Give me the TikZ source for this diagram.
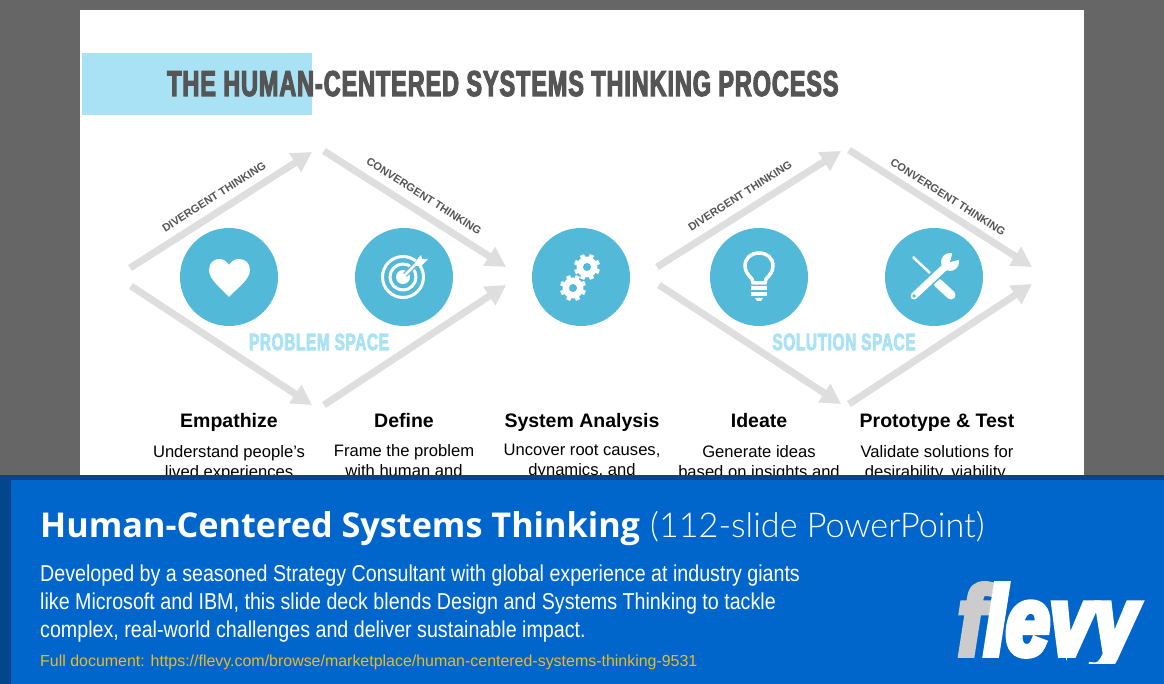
\documentclass[tikz,border=0pt]{standalone}
\usepackage{fontspec}
\setmainfont{Liberation Sans}
\newfontfamily\titlefont{Liberation Sans}[FakeStretch=0.65,FakeBold=3,LetterSpace=2.6]
\newfontfamily\narrowfont{Liberation Sans}[FakeStretch=0.855]
\newfontfamily\headfont{Open Sans}
\newfontfamily\lightfont{Lato}[UprightFont=* Light]
\newfontfamily\logofont{Liberation Sans}[FakeStretch=0.8,FakeBold=6]
\usetikzlibrary{arrows.meta}
\definecolor{slidegray}{HTML}{666666}
\definecolor{bandblue}{HTML}{0066CC}
\definecolor{banddark}{HTML}{03468C}
\definecolor{skyblue}{HTML}{A9E2F5}
\definecolor{tealdisc}{HTML}{53B9D8}
\definecolor{arrowgray}{HTML}{DEDEDE}
\definecolor{labelgray}{HTML}{555555}
\definecolor{linkgold}{HTML}{F0B823}
\tikzset{
	flowarrow/.style={draw=arrowgray,line width=7pt,-{Triangle[length=20pt,width=21pt]}},
	disc/.style={circle,fill=tealdisc,minimum size=98pt,inner sep=0pt},
	thinking/.style={font=\fontsize{11}{12}\selectfont\bfseries,text=labelgray,inner sep=0pt},
	spacelabel/.style={font=\titlefont\fontsize{23.7}{26}\selectfont\bfseries,text=skyblue,inner sep=0pt},
	stagename/.style={font=\fontsize{19.5}{22}\selectfont\bfseries,inner sep=0pt,anchor=base},
	stagetext/.style={font=\fontsize{16.6}{20}\selectfont,align=center,anchor=north,inner sep=0pt},
}
\newcommand{\gearicon}[2]{
	\fill[white] (#1,#2) circle (10.5);
	\foreach \a in {0,45,...,315}
		\draw[white,line width=4.5pt] (#1,#2) ++(\a+22:9) -- ++(\a+22:4);
	\fill[tealdisc] (#1,#2) circle (4);
}
\begin{document}
\begin{tikzpicture}[x=1pt,y=-1pt]
	\useasboundingbox (0,0) rectangle (1164,684);
	\fill[slidegray] (0,0) rectangle (1164,684);
	\fill[white] (80,10) rectangle (1084,480);
	\fill[skyblue] (82,53) rectangle (312,115);
	\node[anchor=base west,inner sep=0pt,text=labelgray,font=\titlefont\fontsize{36}{40}\selectfont\bfseries] (title) at (167,96) {THE HUMAN-CENTERED SYSTEMS THINKING PROCESS};

	% arrow ends
	\coordinate (a1) at (130,268); \coordinate (a2) at (312,152);
	\coordinate (a3) at (324,151); \coordinate (a4) at (506,267);
	\coordinate (a5) at (131,286); \coordinate (a6) at (312,405);
	\coordinate (a7) at (324,405); \coordinate (a8) at (506,285);
	\coordinate (b1) at (657,267); \coordinate (b2) at (841,151);
	\coordinate (b3) at (849,150); \coordinate (b4) at (1032,267);
	\coordinate (b5) at (659,285); \coordinate (b6) at (841,404);
	\coordinate (b7) at (849,404); \coordinate (b8) at (1032,284);
	\draw[flowarrow] (a1) -- (a2);
	\draw[flowarrow] (a3) -- (a4);
	\draw[flowarrow] (a5) -- (a6);
	\draw[flowarrow] (a7) -- (a8);
	\draw[flowarrow] (b1) -- (b2);
	\draw[flowarrow] (b3) -- (b4);
	\draw[flowarrow] (b5) -- (b6);
	\draw[flowarrow] (b7) -- (b8);

	\node[thinking,rotate=32.5] (div1) at (214,197) {DIVERGENT THINKING};
	\node[thinking,rotate=-32.5] (con1) at (424,196) {CONVERGENT THINKING};
	\node[thinking,rotate=32.5] (div2) at (740,196) {DIVERGENT THINKING};
	\node[thinking,rotate=-32.5] (con2) at (948,197) {CONVERGENT THINKING};

	\node[disc] (empathize) at (229,277) {};
	\node[disc] (define) at (404,277) {};
	\node[disc] (analysis) at (581,277) {};
	\node[disc] (ideate) at (759,277) {};
	\node[disc] (prototype) at (934,277) {};

	% heart
	\fill[white] (229,297) .. controls (222,289) and (209,280) .. (209,270)
		.. controls (209,263) and (214,259) .. (219,259)
		.. controls (224,259) and (227,262) .. (229,265)
		.. controls (231,262) and (234,259) .. (239,259)
		.. controls (245,259) and (250,263) .. (250,270)
		.. controls (250,280) and (236,289) .. (229,297) -- cycle;
	% target
	\draw[white,line width=3pt] (403,277) circle (20.5);
	\draw[white,line width=3pt] (403,277) circle (13);
	\fill[white] (403,277) circle (7);
	\draw[tealdisc,line width=5pt] (405,275) -- (420,260);
	\draw[white,line width=2.5pt] (403,277) -- (420,260);
	\fill[white] (415,262) -- (421,255) -- (422,259) -- (428,259) -- (421,266) -- (416,266) -- cycle;
	% gears
	\gearicon{587}{267}
	\gearicon{573}{288}
	% bulb
	\draw[white,line width=3.5pt] (753,283) -- (752,279) .. controls (748,275) and (745,271) .. (745,266)
		.. controls (745,258) and (751,253) .. (759,253)
		.. controls (767,253) and (773,258) .. (773,266)
		.. controls (773,271) and (770,275) .. (766,279) -- (765,283) -- cycle;
	\fill[white] (751,286) rectangle (767,290);
	\fill[white] (751,292) rectangle (767,296);
	\fill[white] (755,298) -- (763,298) -- (761,301) -- (757,301) -- cycle;
	% tools
	\draw[white,line width=2.5pt] (913,257) -- (930,273);
	\draw[white,line width=9pt,line cap=round] (938,283) -- (951,295);
	\draw[tealdisc,line width=10pt] (926,285) -- (945,267);
	\draw[white,line width=7pt,line cap=round] (914,296) -- (947,265);
	\fill[tealdisc] (914,296) circle (1.8);
	\fill[white] (950,262) circle (9);
	\fill[tealdisc] (950,262) -- (953,251) -- (962,259) -- cycle;

	\node[spacelabel] (problem) at (319,342) {PROBLEM SPACE};
	\node[spacelabel] (solution) at (844,342) {SOLUTION SPACE};

	\node[stagename] (name1) at (229,427) {Empathize};
	\node[stagename] (name2) at (404,427) {Define};
	\node[stagename] (name3) at (582,427) {System Analysis};
	\node[stagename] (name4) at (759,427) {Ideate};
	\node[stagename] (name5) at (937,427) {Prototype \& Test};
	\node[stagetext] (text1) at (229,445) {Understand people's\\lived experiences};
	\node[stagetext] (text2) at (404,444) {Frame the problem\\with human and};
	\node[stagetext] (text3) at (582,444) {Uncover root causes,\\dynamics, and};
	\node[stagetext] (text4) at (759,445) {Generate ideas\\based on insights and};
	\node[stagetext] (text5) at (937,445) {Validate solutions for\\desirability, viability,};

	% banner
	\fill[banddark] (0,475) rectangle (1164,684);
	\fill[bandblue] (11,480) rectangle (1164,684);
	\node[anchor=base west,inner sep=0pt,text=white,font=\headfont\fontsize{34.2}{36}\selectfont\bfseries] (heading) at (40,537) {Human-Centered Systems Thinking};
	\node[anchor=base west,inner sep=0pt,text=white,font=\lightfont\fontsize{34.2}{36}\selectfont] (subheading) at (650,537) {(112-slide PowerPoint)};
	\node[anchor=north west,align=left,inner sep=0pt,text=white,font=\narrowfont\fontsize{23}{28}\selectfont] (blurb) at (40,565) {Developed by a seasoned Strategy Consultant with global experience at industry giants\\like Microsoft and IBM, this slide deck blends Design and Systems Thinking to tackle\\complex, real-world challenges and deliver sustainable impact.};
	\node[anchor=base west,inner sep=0pt,text=linkgold,font=\fontsize{15.95}{18}\selectfont] (link) at (40,666) {Full document: https://flevy.com/browse/marketplace/human-centered-systems-thinking-9531};
	\begin{scope}
		\clip (950,575) rectangle (1160,663);
		\node[anchor=base west,inner sep=0pt,text=white,font=\logofont\fontsize{98}{100}\selectfont\bfseries\itshape] (logo) at (958,655) {\textcolor[HTML]{CCCCCC}{f}levy};
	\end{scope}
\end{tikzpicture}
\end{document}
